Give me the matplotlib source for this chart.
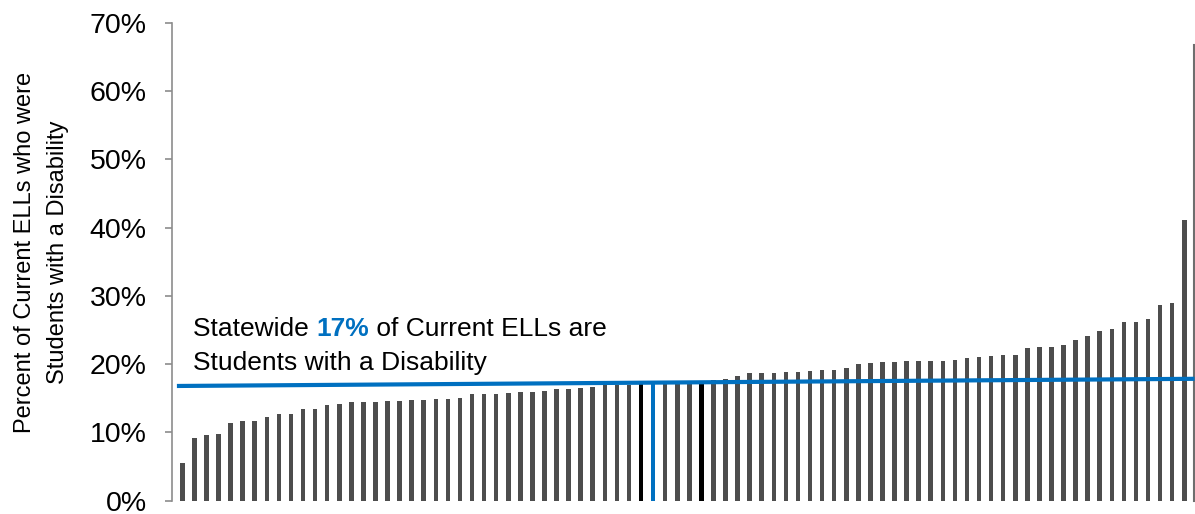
import matplotlib
matplotlib.use("Agg")
import matplotlib.pyplot as plt
import numpy as np

# share of current ELLs who were students with a disability, one bar per district (sorted)
pct = [5.5, 9.2, 9.6, 9.8, 11.4, 11.6, 11.6, 12.2, 12.7, 12.7,
       13.4, 13.5, 14.0, 14.2, 14.4, 14.4, 14.5, 14.6, 14.6, 14.7,
       14.7, 14.9, 14.9, 15.0, 15.6, 15.6, 15.6, 15.7, 15.9, 15.9,
       16.1, 16.3, 16.4, 16.5, 16.7, 16.9, 17.0, 17.0, 17.1, 17.1,
       17.2, 17.2, 17.3, 17.4, 17.7, 17.8, 18.2, 18.7, 18.7, 18.7,
       18.9, 18.9, 19.0, 19.1, 19.2, 19.4, 20.0, 20.1, 20.3, 20.3,
       20.4, 20.4, 20.45, 20.45, 20.6, 20.9, 21.1, 21.2, 21.3, 21.4,
       22.4, 22.5, 22.5, 22.8, 23.5, 24.1, 24.9, 25.1, 26.1, 26.1,
       26.6, 28.6, 28.9, 41.1]
black_idx = [38, 43]   # highlighted districts
blue_idx = [39]
statewide = 17
statewide_line = [16.8, 17.85]  # drawn line, left/right ends

y_ticks = [0, 10, 20, 30, 40, 50, 60, 70]

GREY = "#4d4d4d"
BLUE = "#0070c0"

plt.rcParams["font.family"] = ["Liberation Sans", "DejaVu Sans"]

fig = plt.figure(figsize=(11.95, 5.14), dpi=100)
ax = fig.add_axes([0.1437, 0.0259, 0.8557, 0.9299])

vals = np.array(pct) / 100
x = np.arange(len(vals))
colors = [GREY] * len(vals)
for i in black_idx:
    colors[i] = "black"
for i in blue_idx:
    colors[i] = BLUE
ax.bar(x, vals, width=0.38, color=colors, zorder=2)

ax.plot([-0.45, len(vals) - 0.15], np.array(statewide_line) / 100,
        color=BLUE, lw=3, solid_capstyle="butt", zorder=3, clip_on=False)

ax.set_xlim(-0.88, len(vals) - 1 + 0.83)
ax.set_ylim(0, 0.70)
ax.set_yticks(np.array(y_ticks) / 100)
ax.set_yticklabels([f"{t}%" for t in y_ticks], fontsize=20.5)
ax.set_xticks([])
ax.tick_params(axis="y", direction="out", length=5, width=1.2,
               color="#8c8c8c", pad=13)

for s in ["top", "bottom"]:
    ax.spines[s].set_visible(False)
ax.spines["left"].set_color("#8c8c8c")
ax.spines["left"].set_linewidth(1.2)
ax.spines["right"].set_color("#6e6e6e")
ax.spines["right"].set_linewidth(1.5)
ax.spines["right"].set_bounds(0, 0.667)

ax.set_ylabel("Percent of Current ELLs who were\nStudents with a Disability",
              fontsize=17, linespacing=1.7)
ax.yaxis.set_label_coords(-0.1, 0.52)

# annotation with the blue bold number in the middle
t1 = ax.text(0.89, 0.2416, "Statewide ", fontsize=19,
             va="baseline", ha="left")
t2 = ax.annotate(f"{statewide}%", xy=(1, 0), xycoords=t1, va="bottom",
                 ha="left", fontsize=19, weight="bold", color=BLUE)
ax.annotate(" of Current ELLs are", xy=(1, 0), xycoords=t2, va="bottom",
            ha="left", fontsize=19)
ax.text(0.89, 0.1914, "Students with a Disability", fontsize=19,
        va="baseline", ha="left")

fig.savefig("out.png", dpi=100)
